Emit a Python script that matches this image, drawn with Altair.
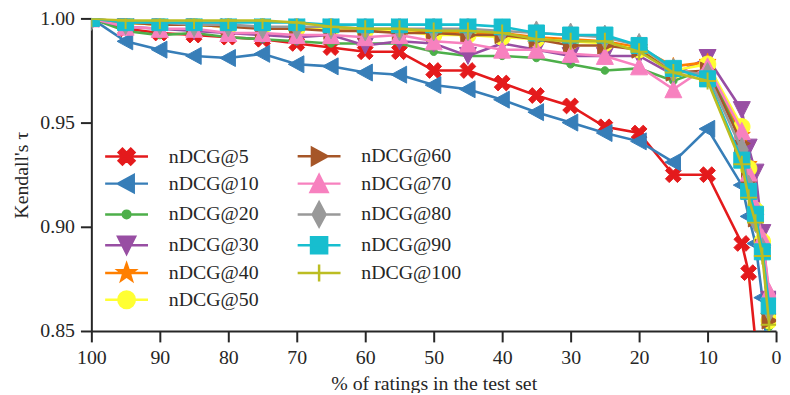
import math
import altair as alt
import pandas as pd

# ---------------- data ----------------
x_pct = [100, 95, 90, 85, 80, 75, 70, 65, 60, 55, 50, 45, 40, 35, 30, 25, 20, 15, 10, 5, 4, 3, 2, 1]
names = ["nDCG@5", "nDCG@10", "nDCG@20", "nDCG@30", "nDCG@40", "nDCG@50",
         "nDCG@60", "nDCG@70", "nDCG@80", "nDCG@90", "nDCG@100"]

ndcg5 = [1.000, 0.995, 0.993, 0.992, 0.991, 0.990, 0.988, 0.986, 0.984, 0.984, 0.975, 0.975,
         0.969, 0.963, 0.958, 0.948, 0.945, 0.925, 0.925, 0.892, 0.878, 0.845, 0.820, 0.800]
ndcg10 = [1.000, 0.989, 0.985, 0.982, 0.981, 0.983, 0.978, 0.977, 0.974, 0.973, 0.968, 0.966,
          0.961, 0.955, 0.950, 0.945, 0.941, 0.931, 0.947, 0.920, 0.905, 0.892, 0.866, 0.830]
ndcg20 = [1.000, 0.994, 0.992, 0.993, 0.991, 0.990, 0.989, 0.988, 0.988, 0.988, 0.984, 0.982,
          0.982, 0.981, 0.978, 0.975, 0.976, 0.970, 0.976, 0.942, 0.924, 0.905, 0.891, 0.852]
ndcg30 = [1.000, 0.996, 0.995, 0.994, 0.993, 0.992, 0.991, 0.992, 0.987, 0.989, 0.988, 0.982,
          0.988, 0.985, 0.982, 0.982, 0.982, 0.973, 0.981, 0.956, 0.938, 0.926, 0.897, 0.865]
ndcg40 = [1.000, 0.998, 0.997, 0.997, 0.996, 0.996, 0.995, 0.995, 0.995, 0.994, 0.994, 0.993,
          0.993, 0.991, 0.990, 0.989, 0.986, 0.977, 0.979, 0.944, 0.930, 0.906, 0.892, 0.857]
ndcg50 = [1.000, 0.998, 0.997, 0.997, 0.996, 0.996, 0.995, 0.995, 0.994, 0.994, 0.992, 0.992,
          0.991, 0.990, 0.989, 0.988, 0.985, 0.975, 0.978, 0.948, 0.928, 0.908, 0.893, 0.855]
ndcg60 = [1.000, 0.998, 0.997, 0.997, 0.996, 0.995, 0.995, 0.994, 0.994, 0.993, 0.993, 0.992,
          0.992, 0.990, 0.987, 0.987, 0.985, 0.974, 0.975, 0.940, 0.922, 0.904, 0.890, 0.855]
ndcg70 = [1.000, 0.996, 0.995, 0.995, 0.993, 0.993, 0.992, 0.992, 0.991, 0.992, 0.989, 0.988,
          0.985, 0.985, 0.983, 0.982, 0.977, 0.966, 0.977, 0.946, 0.926, 0.910, 0.895, 0.869]
ndcg80 = [1.000, 0.998, 0.998, 0.997, 0.997, 0.996, 0.996, 0.996, 0.995, 0.995, 0.995, 0.995,
          0.994, 0.993, 0.992, 0.991, 0.987, 0.975, 0.973, 0.937, 0.919, 0.903, 0.889, 0.860]
ndcg90 = [1.000, 0.998, 0.998, 0.998, 0.998, 0.998, 0.998, 0.997, 0.997, 0.997, 0.997, 0.997,
          0.996, 0.993, 0.992, 0.992, 0.987, 0.976, 0.971, 0.932, 0.917, 0.906, 0.888, 0.862]
ndcg100 = [1.000, 0.999, 0.999, 0.999, 0.999, 0.999, 0.998, 0.996, 0.995, 0.995, 0.994, 0.994,
           0.993, 0.990, 0.989, 0.989, 0.984, 0.974, 0.970, 0.930, 0.914, 0.902, 0.886, 0.853]

series_values = [ndcg5, ndcg10, ndcg20, ndcg30, ndcg40, ndcg50,
                 ndcg60, ndcg70, ndcg80, ndcg90, ndcg100]

x_ticks = [0, 10, 20, 30, 40, 50, 60, 70, 80, 90, 100]
y_ticks = [0.85, 0.90, 0.95, 1.00]

# ---------------- style ----------------
colors = ["#e41a1c", "#377eb8", "#4daf4a", "#984ea3", "#ff7f00", "#ffff33",
          "#a65628", "#f781bf", "#999999", "#17becf", "#bcbd22"]
FONT = "Liberation Serif"
INK = "#262626"


def poly(pts):
    return "M" + " L".join(f"{x:.3f},{y:.3f}" for x, y in pts) + " Z"


def circle(r):
    return f"M{r},0 A{r},{r} 0 1,1 {-r},0 A{r},{r} 0 1,1 {r},0 Z"


def xshape(a=0.3, L=0.95):
    plus = [(-a, -L), (a, -L), (a, -a), (L, -a), (L, a), (a, a), (a, L), (-a, L),
            (-a, a), (-L, a), (-L, -a), (-a, -a)]
    s = 1 / math.sqrt(2)
    return poly([((x - y) * s, (x + y) * s) for x, y in plus])


def star(ro=1.0, ri=0.4):
    pts = []
    for k in range(10):
        r = ro if k % 2 == 0 else ri
        ang = -math.pi / 2 + k * math.pi / 5
        pts.append((r * math.cos(ang), r * math.sin(ang)))
    return poly(pts)


h = 0.95
marker_paths = [
    xshape(),                                          # X
    poly([(-h, 0), (0.8, -h), (0.8, h)]),              # triangle left
    circle(0.42),                                      # small dot
    poly([(-h, -h), (h, -h), (0, h)]),                 # triangle down
    star(),                                            # star
    circle(0.92),                                      # circle
    poly([(h, 0), (-0.8, -h), (-0.8, h)]),             # triangle right
    poly([(-h, h), (h, h), (0, -h)]),                  # triangle up
    poly([(0, -1.35), (0.72, 0), (0, 1.35), (-0.72, 0)]),  # thin diamond
    poly([(-0.9, -0.9), (0.9, -0.9), (0.9, 0.9), (-0.9, 0.9)]),  # square
    "M-0.95,0 L0.95,0 M0,-0.95 L0,0.95",               # plus
]
stroke_widths = [1, 1, 1, 1, 1, 1, 1, 1, 1, 1, 2]
LINE = "M-2.4,0 L2.4,0 "
legend_paths = [LINE + p for p in marker_paths]

# ---------------- table ----------------
rows = []
for name, vals in zip(names, series_values):
    for xv, yv in zip(x_pct, vals):
        rows.append({"series": name, "pct": xv, "tau": yv})
df = pd.DataFrame(rows)

X = alt.X("pct:Q", scale=alt.Scale(domain=[0, 100], reverse=True, nice=False),
          axis=alt.Axis(values=x_ticks, format="d", title="% of ratings in the test set",
                        titlePadding=6, labelPadding=6, labelFlush=False))
Y = alt.Y("tau:Q", scale=alt.Scale(domain=[0.85, 1.0], nice=False, zero=False),
          axis=alt.Axis(values=y_ticks, format=".2f", title="Kendall's τ",
                        titlePadding=8, labelPadding=6, labelFlush=False))

base = alt.Chart(df)
layers = []
for name, col, path, sw in zip(names, colors, marker_paths, stroke_widths):
    sub = base.transform_filter(alt.datum.series == name)
    layers.append(sub.mark_line(color=col, strokeWidth=2.6, clip=True).encode(x=X, y=Y))
    layers.append(sub.mark_point(shape=path, fill=col, stroke=col, strokeWidth=sw, size=324,
                                 opacity=1, fillOpacity=1, clip=True).encode(x=X, y=Y))

LEG = alt.Legend(title=None, orient="none", legendX=25, legendY=128, columns=2,
                 symbolSize=324, symbolStrokeWidth=2.5, labelFont=FONT, labelFontSize=20,
                 labelColor=INK, labelOffset=32, rowPadding=-1, columnPadding=33, padding=0,
                 labelLimit=300)
legend_layer = base.transform_filter("false").mark_point(opacity=1, fillOpacity=1).encode(
    fill=alt.Fill("series:N", scale=alt.Scale(domain=names, range=colors), legend=LEG),
    stroke=alt.Stroke("series:N", scale=alt.Scale(domain=names, range=colors), legend=LEG),
    shape=alt.Shape("series:N", scale=alt.Scale(domain=names, range=legend_paths), legend=LEG),
)
layers.append(legend_layer)

chart = (
    alt.layer(*layers)
    .resolve_scale(shape="independent", fill="independent", stroke="independent")
    .properties(width=690, height=315,
                padding={"left": 84, "top": 9, "right": 6, "bottom": 61},
                autosize=alt.AutoSizeParams(type="none"))
    .configure(font=FONT, background="white")
    .configure_view(stroke=None)
    .configure_axis(grid=False, domainColor=INK, domainWidth=2, tickColor=INK, tickWidth=2,
                    tickSize=11, labelFont=FONT, labelFontSize=20, labelColor=INK,
                    titleFont=FONT, titleFontSize=20, titleFontWeight="normal", titleColor=INK)
)

chart.save("out.html", embed_options={"renderer": "svg", "actions": False})
